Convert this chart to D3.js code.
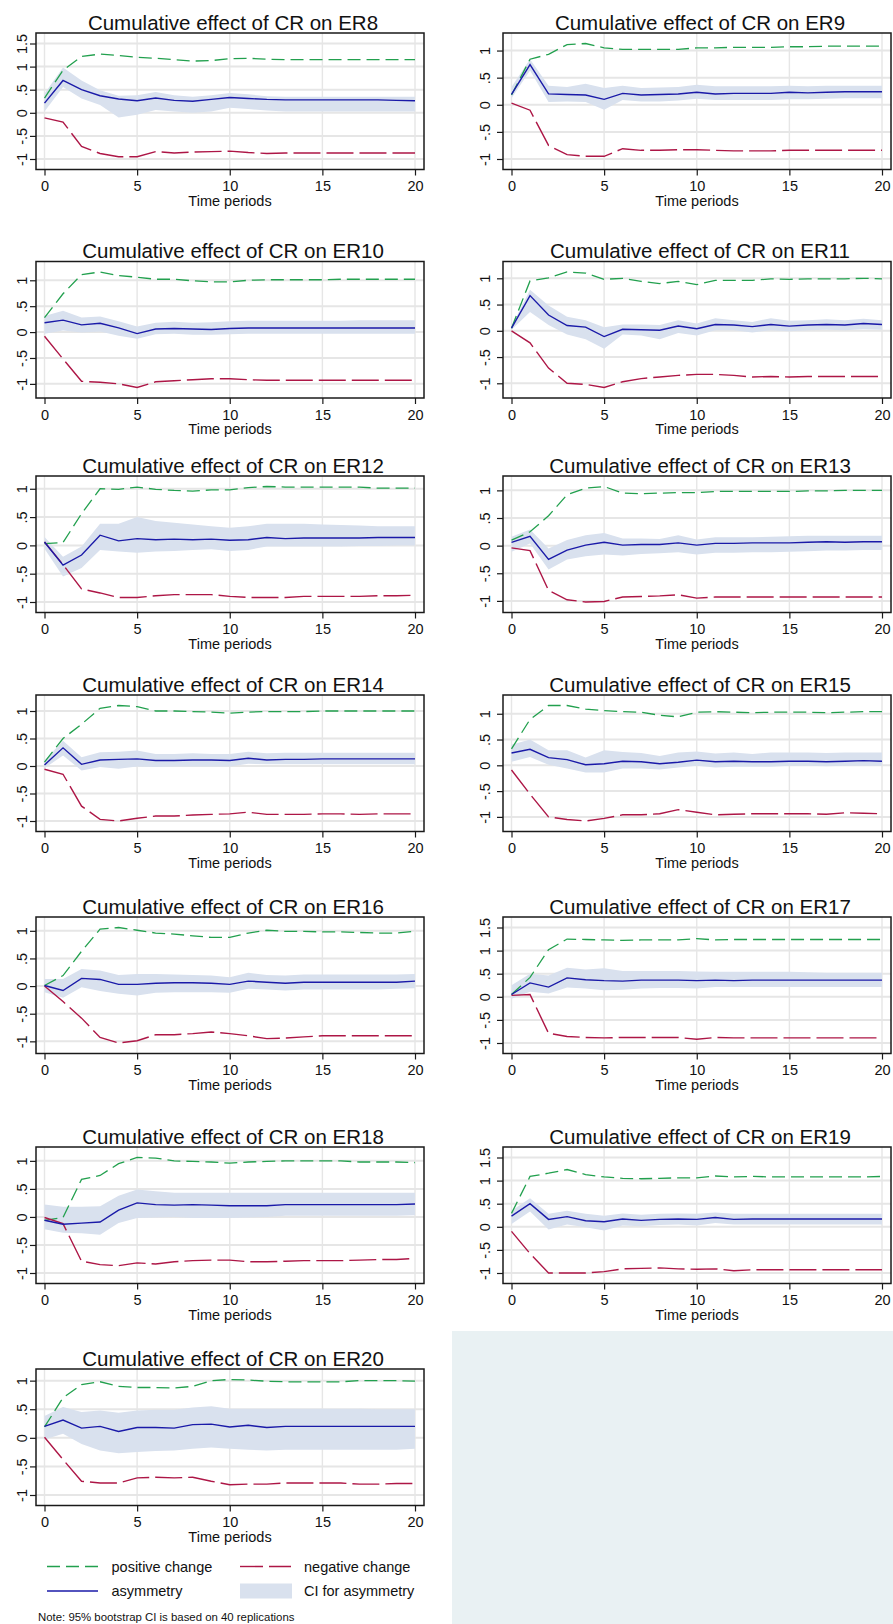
<!DOCTYPE html>
<html>
<head>
<meta charset="utf-8">
<script src="https://cdn.jsdelivr.net/npm/d3@7"></script>
<style>
  body { margin: 0; background: #fff; }
  text { font-family: "Liberation Sans", Arial, sans-serif; fill: #111; }
</style>
</head>
<body>
<script>
// time periods 0..20 and the x tick labels
var periods = d3.range(0, 21)
var xTicks = [0, 5, 10, 15, 20]
var ticksShort = [-1, -0.5, 0, 0.5, 1]
var ticksTall = [-1, -0.5, 0, 0.5, 1, 1.5]

// ER8
var pos8 = [0.32, 0.92, 1.22, 1.27, 1.24, 1.2, 1.18, 1.15, 1.12, 1.13, 1.17, 1.18, 1.16, 1.15, 1.15, 1.15, 1.15, 1.15, 1.15, 1.15, 1.15]
var neg8 = [-0.11, -0.2, -0.73, -0.88, -0.95, -0.95, -0.84, -0.87, -0.85, -0.84, -0.83, -0.86, -0.88, -0.87, -0.87, -0.87, -0.87, -0.87, -0.87, -0.87, -0.87]
var asym8 = [0.21, 0.7, 0.5, 0.37, 0.3, 0.26, 0.32, 0.27, 0.25, 0.29, 0.33, 0.31, 0.29, 0.28, 0.28, 0.28, 0.28, 0.28, 0.28, 0.27, 0.26]
var hi8 = [0.42, 0.98, 0.7, 0.49, 0.37, 0.38, 0.45, 0.38, 0.35, 0.38, 0.43, 0.4, 0.36, 0.35, 0.35, 0.35, 0.35, 0.35, 0.35, 0.35, 0.35]
var lo8 = [0.03, 0.56, 0.31, 0.17, -0.1, -0.04, 0.06, 0.03, 0.0, 0.03, 0.11, 0.08, 0.05, 0.03, 0.03, 0.03, 0.03, 0.03, 0.03, 0.03, 0.03]

// ER9
var pos9 = [0.18, 0.84, 0.93, 1.11, 1.13, 1.05, 1.02, 1.02, 1.02, 1.02, 1.05, 1.05, 1.06, 1.06, 1.06, 1.07, 1.07, 1.08, 1.08, 1.08, 1.08]
var neg9 = [0.03, -0.1, -0.75, -0.92, -0.95, -0.95, -0.81, -0.84, -0.84, -0.83, -0.83, -0.84, -0.85, -0.85, -0.85, -0.84, -0.84, -0.84, -0.84, -0.84, -0.84]
var asym9 = [0.19, 0.74, 0.2, 0.19, 0.18, 0.1, 0.21, 0.18, 0.19, 0.2, 0.23, 0.2, 0.21, 0.21, 0.21, 0.23, 0.22, 0.23, 0.24, 0.24, 0.24]
var hi9 = [0.33, 0.84, 0.35, 0.33, 0.39, 0.31, 0.35, 0.31, 0.32, 0.33, 0.37, 0.34, 0.34, 0.34, 0.34, 0.35, 0.34, 0.35, 0.35, 0.35, 0.35]
var lo9 = [0.12, 0.63, 0.05, 0.06, 0.05, -0.09, 0.09, 0.06, 0.06, 0.08, 0.11, 0.09, 0.09, 0.09, 0.09, 0.1, 0.1, 0.11, 0.12, 0.12, 0.12]

// ER10
var pos10 = [0.28, 0.74, 1.11, 1.16, 1.09, 1.06, 1.02, 1.02, 0.99, 0.97, 0.97, 1.0, 1.01, 1.01, 1.01, 1.01, 1.02, 1.02, 1.02, 1.02, 1.02]
var neg10 = [-0.08, -0.52, -0.95, -0.97, -1.0, -1.07, -0.96, -0.94, -0.92, -0.9, -0.9, -0.92, -0.93, -0.93, -0.93, -0.93, -0.93, -0.93, -0.93, -0.93, -0.93]
var asym10 = [0.18, 0.23, 0.14, 0.17, 0.08, -0.03, 0.06, 0.07, 0.06, 0.05, 0.07, 0.08, 0.08, 0.08, 0.08, 0.08, 0.08, 0.08, 0.08, 0.08, 0.08]
var hi10 = [0.31, 0.41, 0.28, 0.3, 0.21, 0.11, 0.18, 0.2, 0.18, 0.19, 0.21, 0.22, 0.22, 0.22, 0.22, 0.22, 0.22, 0.23, 0.23, 0.23, 0.23]
var lo10 = [-0.03, 0.03, -0.01, 0.01, -0.07, -0.13, -0.04, -0.03, -0.05, -0.05, -0.04, -0.03, -0.03, -0.03, -0.03, -0.03, -0.03, -0.03, -0.03, -0.03, -0.03]

// ER11
var pos11 = [0.05, 0.95, 1.01, 1.12, 1.1, 0.98, 1.0, 0.94, 0.9, 0.94, 0.88, 0.96, 0.96, 0.96, 0.99, 0.98, 0.99, 0.99, 0.99, 1.0, 0.99]
var neg11 = [0.0, -0.23, -0.71, -1.0, -1.02, -1.08, -0.97, -0.91, -0.88, -0.85, -0.83, -0.83, -0.85, -0.88, -0.87, -0.88, -0.87, -0.87, -0.87, -0.87, -0.87]
var asym11 = [0.05, 0.67, 0.3, 0.1, 0.07, -0.11, 0.03, 0.02, 0.01, 0.09, 0.04, 0.12, 0.11, 0.08, 0.12, 0.09, 0.11, 0.12, 0.11, 0.14, 0.12]
var hi11 = [0.08, 0.78, 0.48, 0.27, 0.2, 0.07, 0.12, 0.12, 0.11, 0.2, 0.14, 0.24, 0.2, 0.17, 0.24, 0.19, 0.2, 0.22, 0.2, 0.23, 0.2]
var lo11 = [0.02, 0.36, 0.11, -0.07, -0.16, -0.34, -0.07, -0.09, -0.16, -0.04, -0.09, 0.01, 0.01, -0.03, 0.01, -0.01, 0.01, 0.02, 0.01, 0.03, 0.02]

// ER12
var pos12 = [0.03, 0.05, 0.56, 1.0, 0.99, 1.03, 0.99, 0.97, 0.96, 0.98, 0.98, 1.02, 1.04, 1.03, 1.03, 1.03, 1.03, 1.03, 1.01, 1.01, 1.01]
var neg12 = [0.06, -0.34, -0.77, -0.84, -0.92, -0.92, -0.89, -0.87, -0.87, -0.87, -0.9, -0.92, -0.92, -0.92, -0.9, -0.9, -0.9, -0.9, -0.89, -0.89, -0.88]
var asym12 = [0.06, -0.35, -0.17, 0.18, 0.08, 0.12, 0.1, 0.11, 0.1, 0.11, 0.09, 0.1, 0.14, 0.12, 0.13, 0.13, 0.13, 0.13, 0.14, 0.14, 0.14]
var hi12 = [0.15, -0.2, -0.02, 0.38, 0.38, 0.5, 0.43, 0.4, 0.37, 0.34, 0.31, 0.34, 0.38, 0.38, 0.38, 0.37, 0.36, 0.35, 0.34, 0.34, 0.34]
var lo12 = [-0.06, -0.55, -0.4, -0.08, -0.11, -0.13, -0.11, -0.1, -0.08, -0.07, -0.1, -0.08, -0.02, -0.02, -0.02, -0.02, -0.02, -0.01, -0.01, 0.0, 0.0]

// ER13
var pos13 = [0.1, 0.25, 0.54, 0.92, 1.04, 1.07, 0.95, 0.94, 0.95, 0.96, 0.96, 0.98, 0.98, 0.98, 0.98, 0.98, 0.99, 0.99, 1.0, 1.0, 1.0]
var neg13 = [-0.04, -0.09, -0.81, -0.98, -1.02, -1.01, -0.93, -0.92, -0.91, -0.89, -0.95, -0.93, -0.93, -0.93, -0.93, -0.93, -0.93, -0.93, -0.93, -0.93, -0.93]
var asym13 = [0.06, 0.17, -0.25, -0.08, 0.01, 0.06, 0.01, 0.02, 0.02, 0.05, 0.01, 0.04, 0.04, 0.05, 0.05, 0.05, 0.06, 0.07, 0.06, 0.07, 0.07]
var hi13 = [0.16, 0.29, -0.05, 0.1, 0.19, 0.23, 0.13, 0.13, 0.12, 0.19, 0.11, 0.15, 0.15, 0.15, 0.16, 0.17, 0.18, 0.18, 0.18, 0.18, 0.18]
var lo13 = [-0.11, 0.04, -0.43, -0.25, -0.19, -0.16, -0.18, -0.15, -0.14, -0.12, -0.16, -0.13, -0.13, -0.12, -0.12, -0.11, -0.1, -0.09, -0.09, -0.08, -0.08]

// ER14
var pos14 = [0.07, 0.5, 0.76, 1.05, 1.1, 1.08, 1.0, 1.0, 0.99, 0.98, 0.96, 0.98, 0.99, 0.99, 0.99, 1.0, 1.0, 1.0, 1.0, 1.0, 1.0]
var neg14 = [-0.06, -0.15, -0.73, -0.97, -1.0, -0.95, -0.91, -0.91, -0.89, -0.88, -0.87, -0.84, -0.88, -0.88, -0.88, -0.87, -0.87, -0.88, -0.87, -0.87, -0.87]
var asym14 = [0.02, 0.33, 0.03, 0.11, 0.12, 0.13, 0.1, 0.1, 0.11, 0.11, 0.1, 0.14, 0.11, 0.12, 0.12, 0.13, 0.13, 0.13, 0.13, 0.13, 0.13]
var hi14 = [0.1, 0.46, 0.16, 0.25, 0.26, 0.28, 0.22, 0.22, 0.23, 0.22, 0.22, 0.26, 0.23, 0.24, 0.24, 0.24, 0.24, 0.24, 0.24, 0.24, 0.24]
var lo14 = [-0.04, 0.19, -0.08, -0.02, -0.05, -0.01, -0.02, -0.01, -0.01, -0.01, -0.01, 0.04, 0.03, 0.03, 0.03, 0.03, 0.03, 0.03, 0.03, 0.03, 0.03]

// ER15
var pos15 = [0.32, 0.89, 1.16, 1.16, 1.09, 1.06, 1.04, 1.03, 0.97, 0.94, 1.03, 1.04, 1.03, 1.02, 1.03, 1.03, 1.03, 1.02, 1.03, 1.04, 1.04]
var neg15 = [-0.09, -0.56, -1.0, -1.05, -1.08, -1.03, -0.96, -0.96, -0.94, -0.86, -0.91, -0.96, -0.95, -0.94, -0.94, -0.94, -0.94, -0.95, -0.92, -0.93, -0.94]
var asym15 = [0.24, 0.31, 0.15, 0.11, 0.01, 0.03, 0.08, 0.07, 0.03, 0.06, 0.1, 0.07, 0.08, 0.07, 0.07, 0.08, 0.08, 0.07, 0.08, 0.09, 0.08]
var hi15 = [0.4, 0.5, 0.29, 0.29, 0.15, 0.29, 0.26, 0.24, 0.18, 0.25, 0.27, 0.23, 0.25, 0.22, 0.25, 0.25, 0.25, 0.24, 0.25, 0.25, 0.25]
var lo15 = [0.07, 0.16, 0.01, -0.06, -0.14, -0.14, -0.06, -0.06, -0.08, -0.04, -0.01, -0.04, -0.03, -0.03, -0.03, -0.01, -0.01, -0.02, -0.01, -0.01, -0.01]

// ER16
var pos16 = [0.01, 0.19, 0.63, 1.03, 1.06, 1.01, 0.96, 0.94, 0.91, 0.88, 0.88, 0.96, 1.01, 0.99, 0.99, 0.98, 0.98, 0.97, 0.96, 0.96, 0.99]
var neg16 = [0.0, -0.28, -0.58, -0.93, -1.03, -0.99, -0.88, -0.88, -0.86, -0.83, -0.86, -0.9, -0.95, -0.94, -0.92, -0.9, -0.9, -0.9, -0.9, -0.9, -0.9]
var asym16 = [0.01, -0.08, 0.14, 0.12, 0.03, 0.03, 0.05, 0.06, 0.06, 0.05, 0.03, 0.09, 0.07, 0.05, 0.07, 0.07, 0.07, 0.07, 0.07, 0.07, 0.09]
var hi16 = [0.13, 0.13, 0.31, 0.28, 0.2, 0.22, 0.22, 0.21, 0.2, 0.19, 0.16, 0.24, 0.2, 0.19, 0.21, 0.21, 0.21, 0.21, 0.21, 0.21, 0.22]
var lo16 = [-0.11, -0.21, -0.02, -0.09, -0.14, -0.17, -0.12, -0.11, -0.11, -0.11, -0.12, -0.05, -0.06, -0.08, -0.06, -0.06, -0.06, -0.06, -0.06, -0.05, -0.04]

// ER17
var pos17 = [0.05, 0.42, 1.02, 1.25, 1.24, 1.23, 1.22, 1.23, 1.23, 1.23, 1.26, 1.23, 1.24, 1.24, 1.24, 1.24, 1.24, 1.24, 1.24, 1.24, 1.24]
var neg17 = [0.03, 0.05, -0.79, -0.86, -0.88, -0.89, -0.88, -0.88, -0.88, -0.88, -0.92, -0.88, -0.89, -0.89, -0.89, -0.89, -0.89, -0.89, -0.89, -0.89, -0.89]
var asym17 = [0.05, 0.3, 0.21, 0.41, 0.37, 0.35, 0.34, 0.36, 0.36, 0.36, 0.35, 0.36, 0.35, 0.36, 0.36, 0.36, 0.36, 0.36, 0.36, 0.36, 0.36]
var hi17 = [0.25, 0.5, 0.46, 0.63, 0.59, 0.62, 0.56, 0.56, 0.56, 0.56, 0.55, 0.54, 0.54, 0.54, 0.54, 0.54, 0.53, 0.52, 0.52, 0.52, 0.52]
var lo17 = [-0.04, 0.11, 0.07, 0.2, 0.18, 0.14, 0.15, 0.18, 0.19, 0.19, 0.18, 0.21, 0.21, 0.21, 0.21, 0.21, 0.21, 0.21, 0.21, 0.21, 0.21]

// ER18
var pos18 = [-0.06, -0.01, 0.67, 0.74, 0.95, 1.06, 1.05, 1.0, 0.99, 0.98, 0.96, 0.98, 0.99, 1.0, 1.0, 1.0, 1.0, 0.98, 0.98, 0.98, 0.97]
var neg18 = [-0.01, -0.12, -0.79, -0.85, -0.87, -0.82, -0.84, -0.8, -0.78, -0.77, -0.77, -0.8, -0.8, -0.79, -0.78, -0.78, -0.78, -0.77, -0.76, -0.76, -0.74]
var asym18 = [-0.06, -0.13, -0.11, -0.09, 0.12, 0.25, 0.22, 0.21, 0.22, 0.21, 0.2, 0.2, 0.2, 0.22, 0.22, 0.22, 0.22, 0.22, 0.22, 0.22, 0.23]
var hi18 = [0.22, 0.18, 0.18, 0.19, 0.38, 0.49, 0.46, 0.43, 0.43, 0.43, 0.43, 0.43, 0.43, 0.43, 0.43, 0.43, 0.43, 0.43, 0.43, 0.43, 0.43]
var lo18 = [-0.22, -0.28, -0.29, -0.32, -0.11, -0.02, -0.01, 0.0, -0.02, -0.02, -0.02, -0.01, 0.0, 0.02, 0.02, 0.02, 0.02, 0.02, 0.02, 0.02, 0.03]

// ER19
var pos19 = [0.29, 1.09, 1.16, 1.24, 1.13, 1.08, 1.05, 1.04, 1.05, 1.06, 1.06, 1.1, 1.08, 1.09, 1.08, 1.08, 1.08, 1.08, 1.08, 1.08, 1.09]
var neg19 = [-0.1, -0.58, -1.0, -1.0, -1.0, -0.97, -0.91, -0.9, -0.89, -0.91, -0.92, -0.91, -0.95, -0.93, -0.93, -0.93, -0.93, -0.93, -0.93, -0.93, -0.93]
var asym19 = [0.23, 0.5, 0.16, 0.22, 0.13, 0.11, 0.17, 0.14, 0.16, 0.17, 0.16, 0.2, 0.16, 0.17, 0.17, 0.17, 0.17, 0.17, 0.17, 0.17, 0.17]
var hi19 = [0.35, 0.62, 0.28, 0.35, 0.28, 0.24, 0.29, 0.26, 0.28, 0.29, 0.28, 0.31, 0.28, 0.28, 0.28, 0.28, 0.28, 0.28, 0.28, 0.28, 0.28]
var lo19 = [0.06, 0.33, -0.06, 0.05, -0.01, -0.08, 0.03, 0.01, 0.04, 0.05, 0.03, 0.08, 0.05, 0.05, 0.05, 0.05, 0.05, 0.05, 0.05, 0.05, 0.05]

// ER20
var pos20 = [0.19, 0.7, 0.93, 0.98, 0.9, 0.88, 0.88, 0.87, 0.9, 1.0, 1.02, 1.01, 0.99, 0.98, 0.98, 0.98, 0.98, 1.0, 1.0, 1.0, 0.99]
var neg20 = [0.01, -0.38, -0.76, -0.79, -0.79, -0.7, -0.69, -0.7, -0.69, -0.76, -0.82, -0.81, -0.81, -0.79, -0.79, -0.79, -0.79, -0.81, -0.81, -0.8, -0.8]
var asym20 = [0.2, 0.31, 0.17, 0.2, 0.11, 0.18, 0.18, 0.17, 0.23, 0.24, 0.19, 0.22, 0.18, 0.2, 0.2, 0.2, 0.2, 0.2, 0.2, 0.2, 0.2]
var hi20 = [0.38, 0.54, 0.45, 0.48, 0.44, 0.48, 0.49, 0.49, 0.53, 0.55, 0.51, 0.51, 0.51, 0.51, 0.51, 0.51, 0.51, 0.51, 0.5, 0.5, 0.5]
var lo20 = [-0.03, 0.07, -0.11, -0.22, -0.27, -0.25, -0.23, -0.22, -0.19, -0.17, -0.19, -0.21, -0.22, -0.21, -0.21, -0.21, -0.21, -0.21, -0.21, -0.21, -0.19]

var panels = [
    {name: "ER8", pos: pos8, neg: neg8, asym: asym8, lo: lo8, hi: hi8, ticks: ticksTall},
    {name: "ER9", pos: pos9, neg: neg9, asym: asym9, lo: lo9, hi: hi9, ticks: ticksShort},
    {name: "ER10", pos: pos10, neg: neg10, asym: asym10, lo: lo10, hi: hi10, ticks: ticksShort},
    {name: "ER11", pos: pos11, neg: neg11, asym: asym11, lo: lo11, hi: hi11, ticks: ticksShort},
    {name: "ER12", pos: pos12, neg: neg12, asym: asym12, lo: lo12, hi: hi12, ticks: ticksShort},
    {name: "ER13", pos: pos13, neg: neg13, asym: asym13, lo: lo13, hi: hi13, ticks: ticksShort},
    {name: "ER14", pos: pos14, neg: neg14, asym: asym14, lo: lo14, hi: hi14, ticks: ticksShort},
    {name: "ER15", pos: pos15, neg: neg15, asym: asym15, lo: lo15, hi: hi15, ticks: ticksShort},
    {name: "ER16", pos: pos16, neg: neg16, asym: asym16, lo: lo16, hi: hi16, ticks: ticksShort},
    {name: "ER17", pos: pos17, neg: neg17, asym: asym17, lo: lo17, hi: hi17, ticks: ticksTall},
    {name: "ER18", pos: pos18, neg: neg18, asym: asym18, lo: lo18, hi: hi18, ticks: ticksShort},
    {name: "ER19", pos: pos19, neg: neg19, asym: asym19, lo: lo19, hi: hi19, ticks: ticksTall},
    {name: "ER20", pos: pos20, neg: neg20, asym: asym20, lo: lo20, hi: hi20, ticks: ticksShort}
]

var legendItems = ["positive change", "negative change", "asymmetry", "CI for asymmetry"]
var note = "Note: 95% bootstrap CI is based on 40 replications"

// look
var W = 893, H = 1624
var green = "#22a04e", red = "#ad1646", blue = "#1a1aa8", ciFill = "#d9e1ee", grid = "#e6e6e6"
var greenDash = "13,6", redDash = "27,6"

// frame of each panel's plot region
var rowTops = [33, 261.5, 476, 695, 917, 1147, 1369]
var colLefts = [36, 503]
var plotW = 388, plotH = 136.5

var svg = d3.select("body").append("svg")
    .attr("width", W)
    .attr("height", H)

svg.append("rect").attr("width", W).attr("height", H).attr("fill", "#fff")

// empty cell of the combined graph
svg.append("rect")
    .attr("x", 452).attr("y", 1331)
    .attr("width", W - 452).attr("height", H - 1331)
    .attr("fill", "#e9f1f3")

var fmt = v => String(v).replace("0.", ".")

panels.forEach((p, i) => {
    let left = colLefts[i % 2], top = rowTops[Math.floor(i / 2)]
    let right = left + plotW, bottom = top + plotH

    let x = d3.scaleLinear().domain([0, 20]).range([left + 8.5, right - 9])
    let all = p.pos.concat(p.neg, p.asym, p.lo, p.hi, p.ticks)
    let y = d3.scaleLinear().domain(d3.extent(all)).range([bottom - 10.5, top + 10.5])

    let g = svg.append("g").attr("class", "panel")

    // gridlines
    g.selectAll(".hgrid").data(p.ticks).enter().append("line")
        .attr("x1", left).attr("x2", right)
        .attr("y1", d => y(d)).attr("y2", d => y(d))
        .attr("stroke", grid).attr("stroke-width", 2)
    g.selectAll(".vgrid").data(xTicks).enter().append("line")
        .attr("x1", d => x(d)).attr("x2", d => x(d))
        .attr("y1", top).attr("y2", bottom)
        .attr("stroke", grid).attr("stroke-width", 1.4)

    // CI band
    let band = d3.area()
        .x((d, k) => x(periods[k]))
        .y0((d, k) => y(p.lo[k]))
        .y1((d, k) => y(p.hi[k]))
    g.append("path").datum(periods).attr("d", band).attr("fill", ciFill)

    let line = d3.line().x((d, k) => x(periods[k])).y(d => y(d))
    g.append("path").datum(p.pos).attr("d", line)
        .attr("fill", "none").attr("stroke", green).attr("stroke-width", 1.3)
        .attr("stroke-dasharray", greenDash)
    g.append("path").datum(p.neg).attr("d", line)
        .attr("fill", "none").attr("stroke", red).attr("stroke-width", 1.4)
        .attr("stroke-dasharray", redDash)
    g.append("path").datum(p.asym).attr("d", line)
        .attr("fill", "none").attr("stroke", blue).attr("stroke-width", 1.4)

    // frame
    g.append("rect")
        .attr("x", left).attr("y", top)
        .attr("width", plotW).attr("height", plotH)
        .attr("fill", "none").attr("stroke", "#1a1a1a").attr("stroke-width", 1.5)

    // x axis
    let xa = g.append("g").attr("transform", `translate(0,${bottom})`)
        .call(d3.axisBottom(x).tickValues(xTicks).tickSize(6).tickPadding(5.5).tickFormat(d3.format("d")))
    xa.select(".domain").remove()
    xa.selectAll(".tick line").attr("stroke", "#1a1a1a").attr("stroke-width", 1.2)
    xa.selectAll(".tick text")
        .attr("font-size", "14.5px").attr("font-family", null).attr("fill", "#111")

    // y axis, labels turned upright
    let ya = g.append("g").attr("transform", `translate(${left},0)`)
        .call(d3.axisLeft(y).tickValues(p.ticks).tickSize(6).tickFormat(fmt))
    ya.select(".domain").remove()
    ya.selectAll(".tick line").attr("stroke", "#1a1a1a").attr("stroke-width", 1.2)
    ya.selectAll(".tick text")
        .attr("font-size", "14.5px").attr("fill", "#111")
        .attr("text-anchor", "middle")
        .attr("x", 0).attr("dy", null)
        .attr("y", i % 2 ? -13 : -9.5)
        .attr("transform", "rotate(-90)")

    g.append("text")
        .attr("x", (left + right) / 2).attr("y", bottom + 36)
        .attr("text-anchor", "middle").attr("font-size", "14.5px")
        .text("Time periods")

    g.append("text")
        .attr("x", (left + right) / 2 + 3).attr("y", top - 3.5)
        .attr("text-anchor", "middle").attr("font-size", "20.5px")
        .text("Cumulative effect of CR on " + p.name)
})

// legend
var leg = svg.append("g").attr("class", "legend")
var legRows = [1566.5, 1591]
var keyX = [47, 240], textX = [111.5, 304]
legendItems.forEach((label, k) => {
    let cx = keyX[k % 2], cy = legRows[Math.floor(k / 2)]
    if (k === 3) {
        leg.append("rect").attr("x", cx).attr("y", cy - 7.5)
            .attr("width", 52).attr("height", 15).attr("fill", ciFill)
    } else {
        leg.append("line")
            .attr("x1", cx).attr("x2", cx + 51)
            .attr("y1", cy).attr("y2", cy)
            .attr("stroke", [green, red, blue][k])
            .attr("stroke-width", 1.4)
            .attr("stroke-dasharray", [greenDash, "23,6", null][k])
    }
    leg.append("text")
        .attr("x", textX[k % 2]).attr("y", cy + 5.2)
        .attr("font-size", "14.5px")
        .text(label)
})

svg.append("text")
    .attr("x", 38).attr("y", 1620.5)
    .attr("font-size", "11.4px")
    .text(note)
</script>
</body>
</html>
